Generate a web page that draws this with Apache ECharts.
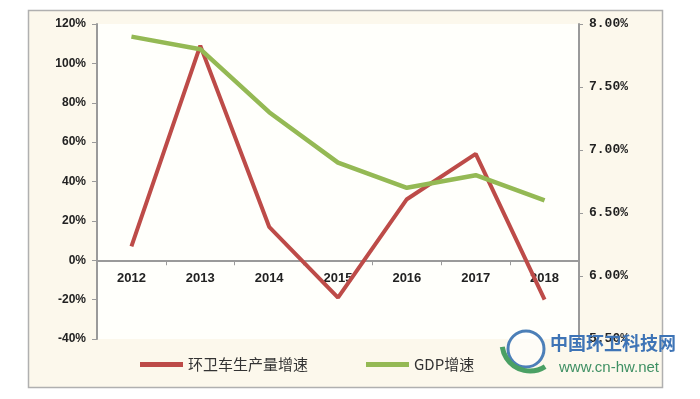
<!DOCTYPE html>
<html>
<head>
<meta charset="utf-8">
<script src="https://cdn.jsdelivr.net/npm/echarts@6/dist/echarts.min.js"></script>
<style>
  html, body { margin: 0; padding: 0; background: #ffffff; }
  #chart-container { width: 700px; height: 399px; }
</style>
</head>
<body>
<div id="chart-container"></div>
<script>
var dom = document.getElementById("chart-container");
var myChart = echarts.init(dom, null, { renderer: "canvas" });

// 年份
const years = ["2012", "2013", "2014", "2015", "2016", "2017", "2018"];
// 环卫车生产量增速 (%), left axis
const vehicleGrowth = [7, 109, 17, -19, 31, 54, -20];
// GDP增速 (%), right axis
const gdpGrowth = [7.9, 7.8, 7.3, 6.9, 6.7, 6.8, 6.6];

const RED = "#bd4b48";
const GREEN = "#94b954";

var option = {
  backgroundColor: "#ffffff",
  animation: false,
  grid: {
    left: 97,
    right: 121,
    top: 24,
    bottom: 60,
    show: true,
    backgroundColor: "#fffffb",
    borderWidth: 0,
  },
  legend: {
    left: 135,
    top: 352,
    itemGap: 58,
    itemWidth: 43,
    itemHeight: 5,
    icon: "rect",
    textStyle: {
      fontFamily: "Noto Sans CJK SC",
      fontSize: 15,
      color: "#333",
    },
    data: ["环卫车生产量增速", "GDP增速"],
  },
  xAxis: {
    type: "category",
    data: years,
    boundaryGap: true,
    axisLine: { onZero: true, lineStyle: { color: "#9a9a9a", width: 2 } },
    axisTick: { show: true, length: 5, lineStyle: { color: "#9a9a9a" } },
    axisLabel: {
      // labels sit just under the 0% line, as in the original
      margin: -67,
      fontFamily: "Liberation Sans",
      fontSize: 13,
      fontWeight: "bold",
      color: "#222",
    },
  },
  yAxis: [
    {
      type: "value",
      min: -40,
      max: 120,
      interval: 20,
      splitLine: { show: false },
      axisLine: { show: true, lineStyle: { color: "#9a9a9a", width: 2 } },
      axisTick: { show: true, length: 5, lineStyle: { color: "#9a9a9a" } },
      axisLabel: {
        margin: 11,
        formatter: "{value}%",
        fontFamily: "Liberation Sans",
        fontSize: 12,
        fontWeight: "bold",
        color: "#222",
      },
    },
    {
      type: "value",
      min: 5.5,
      max: 8,
      interval: 0.5,
      alignTicks: false,
      splitLine: { show: false },
      axisLine: { show: true, lineStyle: { color: "#9a9a9a", width: 2 } },
      axisTick: { show: true, length: 4, lineStyle: { color: "#9a9a9a" } },
      axisLabel: {
        margin: 10,
        formatter: function (v) { return v.toFixed(2) + "%"; },
        fontFamily: "Liberation Mono",
        fontSize: 13,
        fontWeight: "bold",
        color: "#222",
      },
    },
  ],
  graphic: [
    {
      type: "rect",
      shape: { x: 28.5, y: 10.5, width: 634, height: 377 },
      style: { fill: "none", stroke: "#b0b0b0", lineWidth: 1.5 },
      z: 0,
      silent: true,
    },
    {
      type: "rect",
      shape: { x: 29, y: 11, width: 633, height: 376 },
      style: { fill: "#fcf8ec" },
      z: -10,
      silent: true,
    },
    // watermark logo
    {
      type: "circle",
      shape: { cx: 526, cy: 349, r: 18 },
      style: { fill: "rgba(255,255,255,0.6)", stroke: "#4c7fb8", lineWidth: 3 },
      z: 20,
      silent: true,
    },
    {
      type: "arc",
      shape: { cx: 530, cy: 343, r: 28, startAngle: 1.0, endAngle: 3.0 },
      style: { fill: "none", stroke: "#4aa064", lineWidth: 5 },
      z: 20,
      silent: true,
    },
    {
      type: "text",
      left: 550,
      top: 334,
      style: {
        text: "中国环卫科技网",
        fill: "#3e74b6",
        font: "bold 18px 'Noto Sans CJK SC'",
      },
      z: 20,
      silent: true,
    },
    {
      type: "text",
      left: 559,
      top: 360,
      style: {
        text: "www.cn-hw.net",
        fill: "#3f9064",
        font: "15px 'Liberation Sans'",
      },
      z: 20,
      silent: true,
    },
  ],
  series: [
    {
      name: "环卫车生产量增速",
      type: "line",
      yAxisIndex: 0,
      data: vehicleGrowth,
      showSymbol: false,
      itemStyle: { color: RED },
      lineStyle: { color: RED, width: 4 },
    },
    {
      name: "GDP增速",
      type: "line",
      yAxisIndex: 1,
      data: gdpGrowth,
      showSymbol: false,
      itemStyle: { color: GREEN },
      lineStyle: { color: GREEN, width: 4.5 },
    },
  ],
};

myChart.setOption(option);
window.addEventListener("resize", myChart.resize);
</script>
</body>
</html>
